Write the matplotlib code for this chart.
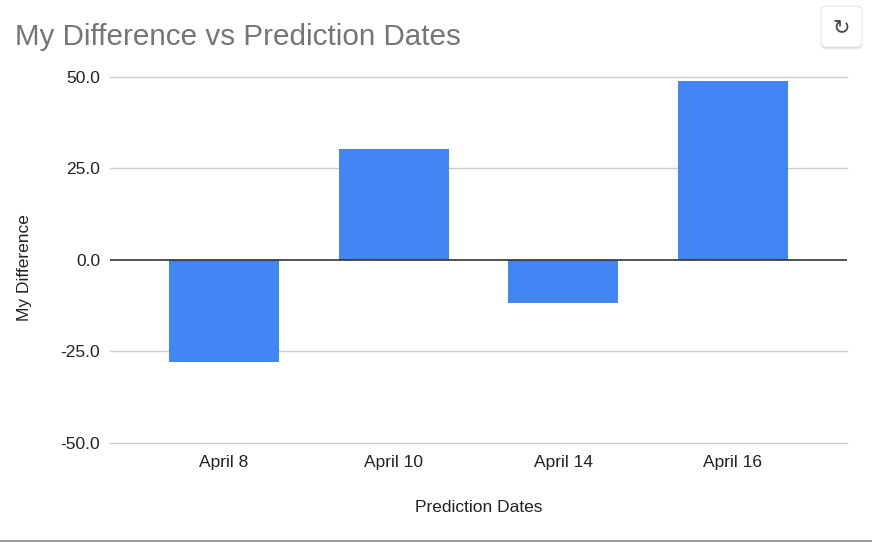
import matplotlib.pyplot as plt
from matplotlib.patches import FancyBboxPatch

dates = ["April 8", "April 10", "April 14", "April 16"]
diffs = [-28.0, 30.4, -11.8, 48.9]
yticks = [-50, -25, 0, 25, 50]

plt.rcParams['font.family'] = ['Liberation Sans', 'DejaVu Sans']

fig = plt.figure(figsize=(8.72, 5.42), dpi=100)
ax = fig.add_axes([0.1261, 0.1827, 0.8452, 0.6753])

x = list(range(len(dates)))
ax.bar(x, diffs, width=0.648, color='#4285f4', zorder=3)

ax.set_xlim(-0.672, 3.672)
ax.set_ylim(-50, 50)
ax.set_yticks(yticks)
ax.set_yticklabels([f"{v:.1f}" for v in yticks])
ax.set_xticks(x)
ax.set_xticklabels(dates)
ax.tick_params(length=0, labelsize=12.5, colors='#222222')
ax.tick_params(axis='y', pad=7)
ax.tick_params(axis='x', pad=9)

for v in yticks:
    if v != 0:
        ax.axhline(v, color='#cccccc', lw=1, zorder=1, clip_on=False)
ax.axhline(0, color='#333333', lw=1.2, zorder=4)
for s in ax.spines.values():
    s.set_visible(False)

ax.set_xlabel("Prediction Dates", fontsize=12.5, color='#222222', labelpad=21)
fig.text(25 / 872, 1 - 268 / 542, "My Difference", rotation=90, fontsize=12.5,
         color='#222222', ha='center', va='center')

fig.text(15 / 872, 1 - 37 / 542, "My Difference vs Prediction Dates",
         fontsize=21.3, color='#757575', ha='left', va='center')

# bottom border line
fig.add_artist(plt.Line2D([0, 1], [1 - 540.5 / 542] * 2, color='#888888', lw=1.2))

# refresh button
for off, a in [(3, 0.25), (2, 0.35), (1, 0.5)]:
    fig.add_artist(FancyBboxPatch((821 / 872, (1 - 47 / 542) - off / 542), 41 / 872, 41 / 542,
                                  boxstyle="round,pad=0,rounding_size=0.008",
                                  transform=fig.transFigure, fc='#d5d5d5', ec='none',
                                  alpha=a, zorder=5))
btn = FancyBboxPatch((821 / 872, 1 - 47 / 542), 41 / 872, 41 / 542,
                     boxstyle="round,pad=0,rounding_size=0.008",
                     transform=fig.transFigure, fc='white', ec='#e6e6e6',
                     lw=0.8, zorder=6)
fig.add_artist(btn)
fig.text(841.5 / 872, 1 - 27 / 542, "↻", fontsize=15, color='#444444',
         ha='center', va='center', family='DejaVu Sans', zorder=7)

fig.savefig("out.png", dpi=100)
